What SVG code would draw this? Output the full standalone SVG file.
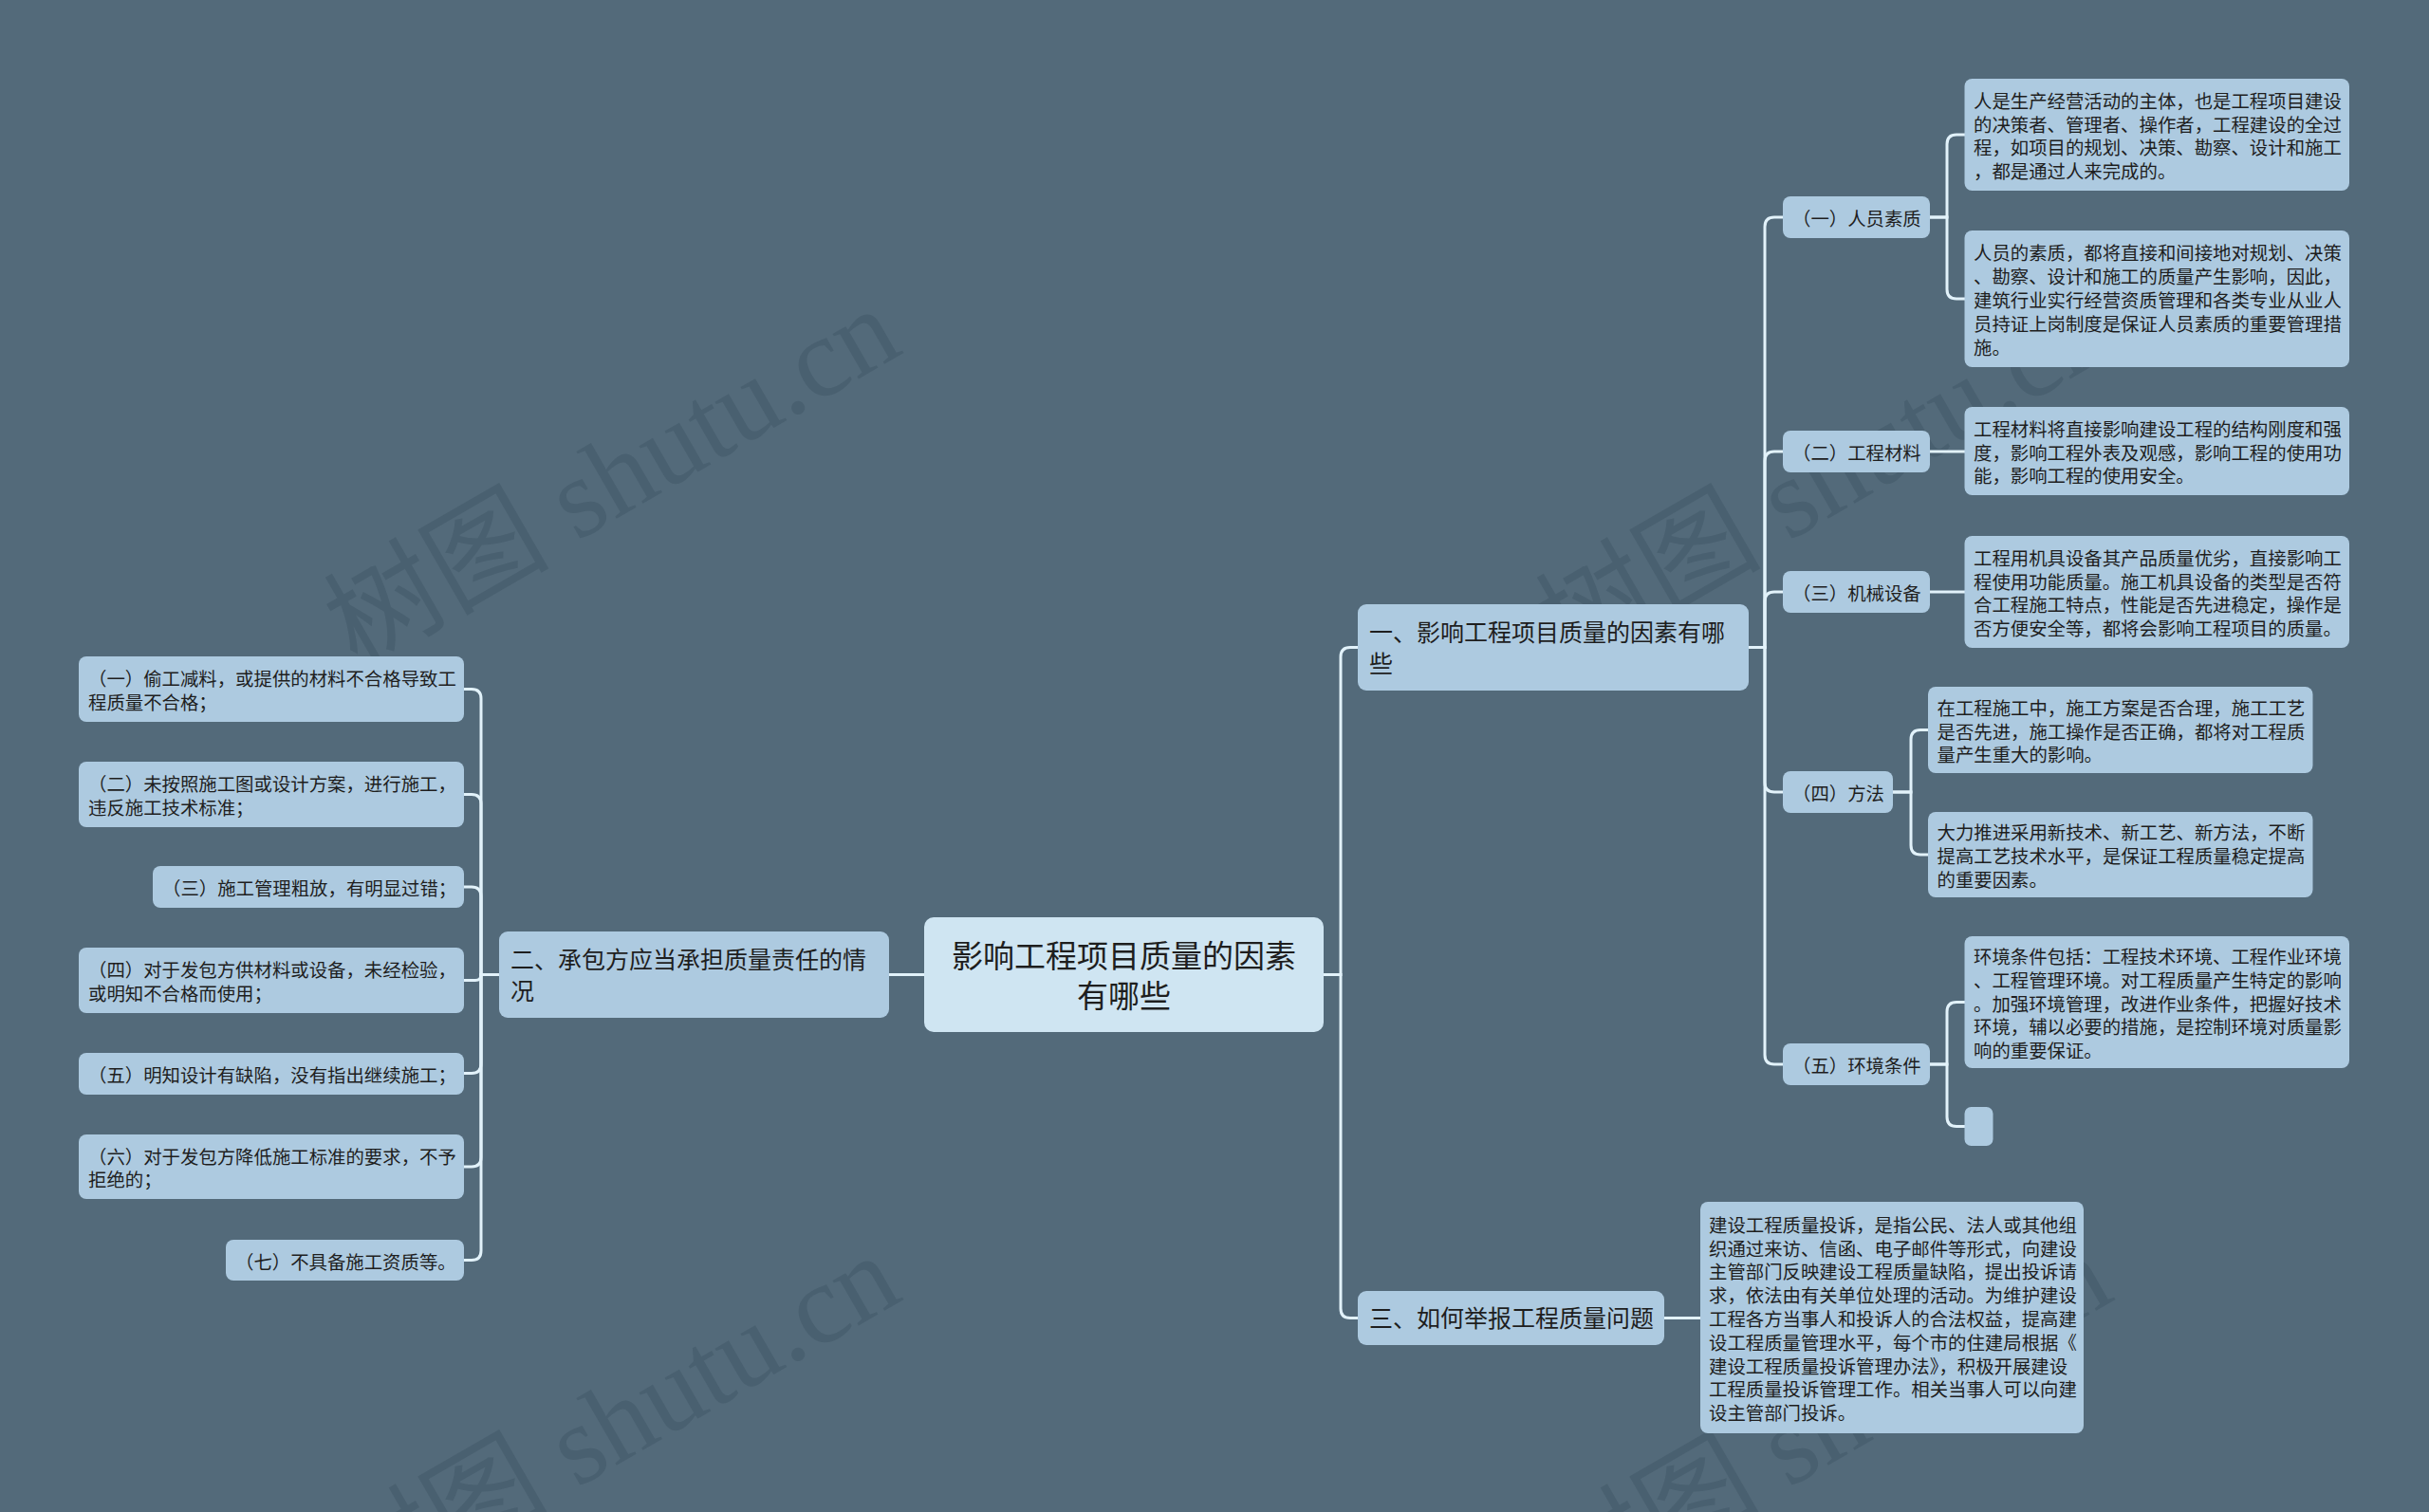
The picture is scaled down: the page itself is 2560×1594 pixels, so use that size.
<svg xmlns="http://www.w3.org/2000/svg" width="2560" height="1594" viewBox="0 0 2560 1594">
<style>
.bgr{fill:#536a7a}
.n{fill:#adcae0}
.c{fill:#cfe5f2}
text{font-family:"Liberation Sans","Noto Sans CJK SC",sans-serif;fill:#1e1e1e}
.t{font-size:19.4px}
.t1{font-size:25px}
.t0{font-size:33px;text-anchor:middle}
.ln{fill:none;stroke:#e2f2fa;stroke-width:3}
.wm{font-family:"Liberation Serif","Noto Sans CJK SC",serif;font-size:119px;fill:#3e5464;fill-opacity:0.45;text-anchor:middle}
</style>
<rect class="bgr" x="0" y="0" width="2560" height="1594"/>
<g id="watermarks">
<text class="wm" transform="translate(665,538) rotate(-30)">树图 shutu.cn</text>
<text class="wm" transform="translate(1942,538) rotate(-30)">树图 shutu.cn</text>
<text class="wm" transform="translate(665,1536) rotate(-30)">树图 shutu.cn</text>
<text class="wm" transform="translate(1942,1536) rotate(-30)">树图 shutu.cn</text>
</g>
<g id="connectors">
<path class="ln" d="M974,1027.5 H937"/>
<path class="ln" d="M526,1027.5 H507 V736.5 Q507,726.5 497,726.5 H489"/>
<path class="ln" d="M526,1027.5 H507 V847.5 Q507,837.5 497,837.5 H489"/>
<path class="ln" d="M526,1027.5 H507 V945 Q507,935 497,935 H489"/>
<path class="ln" d="M526,1027.5 H507 Q507,1033.5 501,1033.5 H489"/>
<path class="ln" d="M526,1027.5 H507 V1121.5 Q507,1131.5 497,1131.5 H489"/>
<path class="ln" d="M526,1027.5 H507 V1220 Q507,1230 497,1230 H489"/>
<path class="ln" d="M526,1027.5 H507 V1318.5 Q507,1328.5 497,1328.5 H489"/>
<path class="ln" d="M1395,1027.5 H1413 V692.5 Q1413,682.5 1423,682.5 H1431"/>
<path class="ln" d="M1395,1027.5 H1413 V1379.5 Q1413,1389.5 1423,1389.5 H1431"/>
<path class="ln" d="M1843,682.5 H1860 V239 Q1860,229 1870,229 H1879"/>
<path class="ln" d="M1843,682.5 H1860 V486 Q1860,476 1870,476 H1879"/>
<path class="ln" d="M1843,682.5 H1860 V634 Q1860,624 1870,624 H1879"/>
<path class="ln" d="M1843,682.5 H1860 V825 Q1860,835 1870,835 H1879"/>
<path class="ln" d="M1843,682.5 H1860 V1112 Q1860,1122 1870,1122 H1879"/>
<path class="ln" d="M2034,229 H2052 V152 Q2052,142 2062,142 H2071"/>
<path class="ln" d="M2034,229 H2052 V305 Q2052,315 2062,315 H2071"/>
<path class="ln" d="M2034,476 H2071"/>
<path class="ln" d="M2034,624 H2071"/>
<path class="ln" d="M1995,835 H2014 V779.5 Q2014,769.5 2024,769.5 H2032"/>
<path class="ln" d="M1995,835 H2014 V891 Q2014,901 2024,901 H2032"/>
<path class="ln" d="M2034,1122 H2052 V1066.5 Q2052,1056.5 2062,1056.5 H2071"/>
<path class="ln" d="M2034,1122 H2052 V1177.5 Q2052,1187.5 2062,1187.5 H2071"/>
<path class="ln" d="M1754,1389.5 H1792"/>
</g>
<g id="root">
<rect class="c" x="974" y="967" width="421" height="121" rx="10"/>
<text class="t0" x="1184.5" y="1019.5">影响工程项目质量的因素</text>
<text class="t0" x="1184.5" y="1061.5">有哪些</text>
</g>
<g id="n1">
<rect class="n" x="1431" y="637" width="412" height="91" rx="9"/>
<text class="t1" x="1443" y="675.5">一、影响工程项目质量的因素有哪</text>
<text class="t1" x="1443" y="708.5">些</text>
</g>
<g id="n2">
<rect class="n" x="526" y="982" width="411" height="91" rx="9"/>
<text class="t1" x="538" y="1020.5">二、承包方应当承担质量责任的情</text>
<text class="t1" x="538" y="1053.5">况</text>
</g>
<g id="n3">
<rect class="n" x="1431" y="1361" width="323" height="57" rx="9"/>
<text class="t1" x="1443" y="1399">三、如何举报工程质量问题</text>
</g>
<g id="n1a">
<rect class="n" x="1879" y="207" width="155" height="44" rx="8"/>
<text class="t" x="1889" y="238">（一）人员素质</text>
</g>
<g id="n1b">
<rect class="n" x="1879" y="454" width="155" height="44" rx="8"/>
<text class="t" x="1889" y="485">（二）工程材料</text>
</g>
<g id="n1c">
<rect class="n" x="1879" y="602" width="155" height="44" rx="8"/>
<text class="t" x="1889" y="633">（三）机械设备</text>
</g>
<g id="n1d">
<rect class="n" x="1879" y="813" width="116" height="44" rx="8"/>
<text class="t" x="1889" y="844">（四）方法</text>
</g>
<g id="n1e">
<rect class="n" x="1879" y="1100" width="155" height="44" rx="8"/>
<text class="t" x="1889" y="1131">（五）环境条件</text>
</g>
<g id="n1a1">
<rect class="n" x="2070.5" y="83" width="405.5" height="118" rx="8"/>
<text class="t" x="2080" y="113.8">人是生产经营活动的主体，也是工程项目建设</text>
<text class="t" x="2080" y="138.6">的决策者、管理者、操作者，工程建设的全过</text>
<text class="t" x="2080" y="163.4">程，如项目的规划、决策、勘察、设计和施工</text>
<text class="t" x="2080" y="188.2">，都是通过人来完成的。</text>
</g>
<g id="n1a2">
<rect class="n" x="2070.5" y="243" width="405.5" height="144" rx="8"/>
<text class="t" x="2080" y="274.4">人员的素质，都将直接和间接地对规划、决策</text>
<text class="t" x="2080" y="299.2">、勘察、设计和施工的质量产生影响，因此，</text>
<text class="t" x="2080" y="324">建筑行业实行经营资质管理和各类专业从业人</text>
<text class="t" x="2080" y="348.8">员持证上岗制度是保证人员素质的重要管理措</text>
<text class="t" x="2080" y="373.6">施。</text>
</g>
<g id="n1b1">
<rect class="n" x="2070.5" y="429" width="405.5" height="93" rx="8"/>
<text class="t" x="2080" y="459.7">工程材料将直接影响建设工程的结构刚度和强</text>
<text class="t" x="2080" y="484.5">度，影响工程外表及观感，影响工程的使用功</text>
<text class="t" x="2080" y="509.3">能，影响工程的使用安全。</text>
</g>
<g id="n1c1">
<rect class="n" x="2070.5" y="565" width="405.5" height="118" rx="8"/>
<text class="t" x="2080" y="595.8">工程用机具设备其产品质量优劣，直接影响工</text>
<text class="t" x="2080" y="620.6">程使用功能质量。施工机具设备的类型是否符</text>
<text class="t" x="2080" y="645.4">合工程施工特点，性能是否先进稳定，操作是</text>
<text class="t" x="2080" y="670.2">否方便安全等，都将会影响工程项目的质量。</text>
</g>
<g id="n1d1">
<rect class="n" x="2032" y="724" width="405.5" height="91" rx="8"/>
<text class="t" x="2041.5" y="753.7">在工程施工中，施工方案是否合理，施工工艺</text>
<text class="t" x="2041.5" y="778.5">是否先进，施工操作是否正确，都将对工程质</text>
<text class="t" x="2041.5" y="803.3">量产生重大的影响。</text>
</g>
<g id="n1d2">
<rect class="n" x="2032" y="856" width="405.5" height="90" rx="8"/>
<text class="t" x="2041.5" y="885.2">大力推进采用新技术、新工艺、新方法，不断</text>
<text class="t" x="2041.5" y="910">提高工艺技术水平，是保证工程质量稳定提高</text>
<text class="t" x="2041.5" y="934.8">的重要因素。</text>
</g>
<g id="n1e1">
<rect class="n" x="2070.5" y="987" width="405.5" height="139" rx="8"/>
<text class="t" x="2080" y="1015.9">环境条件包括：工程技术环境、工程作业环境</text>
<text class="t" x="2080" y="1040.7">、工程管理环境。对工程质量产生特定的影响</text>
<text class="t" x="2080" y="1065.5">。加强环境管理，改进作业条件，把握好技术</text>
<text class="t" x="2080" y="1090.3">环境，辅以必要的措施，是控制环境对质量影</text>
<text class="t" x="2080" y="1115.1">响的重要保证。</text>
</g>
<g id="n1e2">
<rect class="n" x="2070.5" y="1167" width="30" height="41" rx="7"/>
</g>
<g id="n3a">
<rect class="n" x="1792" y="1267" width="404" height="244" rx="8"/>
<text class="t" x="1801" y="1298.8">建设工程质量投诉，是指公民、法人或其他组</text>
<text class="t" x="1801" y="1323.6">织通过来访、信函、电子邮件等形式，向建设</text>
<text class="t" x="1801" y="1348.4">主管部门反映建设工程质量缺陷，提出投诉请</text>
<text class="t" x="1801" y="1373.2">求，依法由有关单位处理的活动。为维护建设</text>
<text class="t" x="1801" y="1398">工程各方当事人和投诉人的合法权益，提高建</text>
<text class="t" x="1801" y="1422.8">设工程质量管理水平，每个市的住建局根据《</text>
<text class="t" x="1801" y="1447.6">建设工程质量投诉管理办法》，积极开展建设</text>
<text class="t" x="1801" y="1472.4">工程质量投诉管理工作。相关当事人可以向建</text>
<text class="t" x="1801" y="1497.2">设主管部门投诉。</text>
</g>
<g id="n2a">
<rect class="n" x="83" y="692" width="406" height="69" rx="8"/>
<text class="t" x="93" y="723.1">（一）偷工减料，或提供的材料不合格导致工</text>
<text class="t" x="93" y="747.9">程质量不合格；</text>
</g>
<g id="n2b">
<rect class="n" x="83" y="803" width="406" height="69" rx="8"/>
<text class="t" x="93" y="834.1">（二）未按照施工图或设计方案，进行施工，</text>
<text class="t" x="93" y="858.9">违反施工技术标准；</text>
</g>
<g id="n2c">
<rect class="n" x="161" y="913" width="328" height="44" rx="8"/>
<text class="t" x="171" y="944">（三）施工管理粗放，有明显过错；</text>
</g>
<g id="n2d">
<rect class="n" x="83" y="999" width="406" height="69" rx="8"/>
<text class="t" x="93" y="1030.1">（四）对于发包方供材料或设备，未经检验，</text>
<text class="t" x="93" y="1054.9">或明知不合格而使用；</text>
</g>
<g id="n2e">
<rect class="n" x="83" y="1110" width="406" height="44" rx="8"/>
<text class="t" x="93" y="1140.5">（五）明知设计有缺陷，没有指出继续施工；</text>
</g>
<g id="n2f">
<rect class="n" x="83" y="1196" width="406" height="68" rx="8"/>
<text class="t" x="93" y="1226.6">（六）对于发包方降低施工标准的要求，不予</text>
<text class="t" x="93" y="1251.4">拒绝的；</text>
</g>
<g id="n2g">
<rect class="n" x="238" y="1307" width="251" height="43" rx="8"/>
<text class="t" x="248" y="1337.5">（七）不具备施工资质等。</text>
</g>
</svg>
